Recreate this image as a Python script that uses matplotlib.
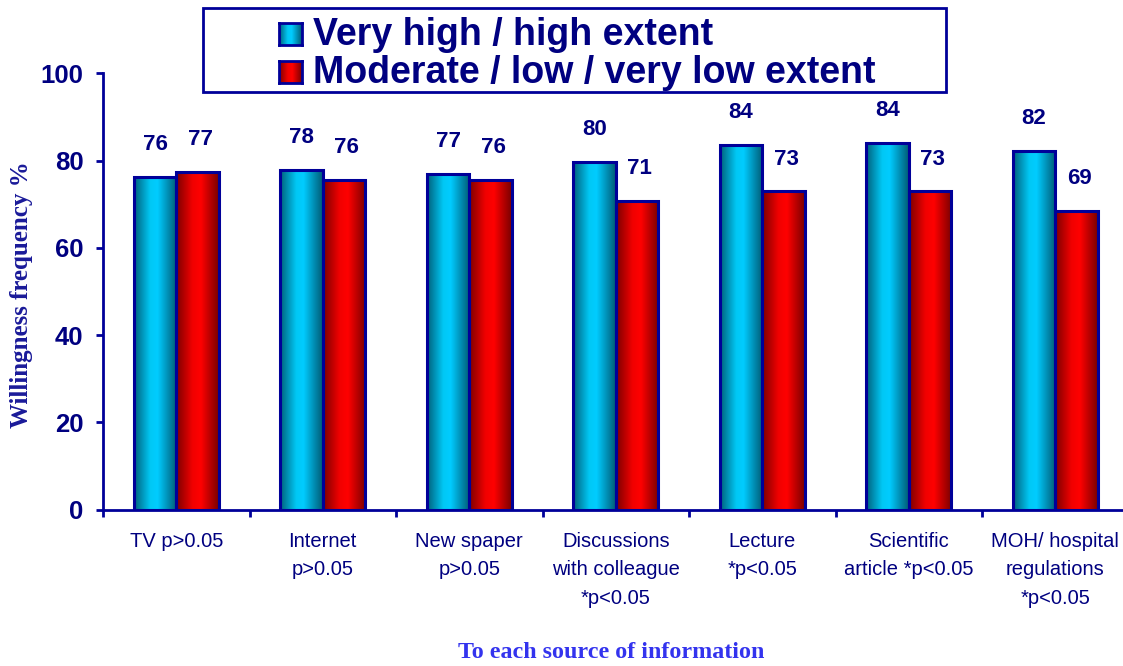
import numpy as np
import matplotlib
matplotlib.use("Agg")
import matplotlib.pyplot as plt
from matplotlib.colors import LinearSegmentedColormap
from matplotlib.patches import Rectangle

# data
categories = ["TV p>0.05", "Internet\np>0.05", "New spaper\np>0.05",
              "Discussions\nwith colleague\n*p<0.05", "Lecture\n*p<0.05",
              "Scientific\narticle *p<0.05", "MOH/ hospital\nregulations\n*p<0.05"]
high_vals = [76.3, 77.9, 77.0, 79.7, 83.6, 84.1, 82.2]
low_vals = [77.4, 75.6, 75.6, 70.8, 73.0, 73.0, 68.5]
high_labels = [76, 78, 77, 80, 84, 84, 82]
low_labels = [77, 76, 76, 71, 73, 73, 69]
series_names = ["Very high / high extent", "Moderate / low / very low extent"]

navy = "#000080"
edge = "#000099"

cyan_cmap = LinearSegmentedColormap.from_list(
    "cy", [(0, "#005f7a"), (0.38, "#00c8f5"), (0.55, "#00ccff"), (1, "#005a74")])
red_cmap = LinearSegmentedColormap.from_list(
    "rd", [(0, "#7a0000"), (0.38, "#f00000"), (0.58, "#ff0000"), (1, "#780000")])
grad = np.linspace(0, 1, 256).reshape(1, -1)

fig = plt.figure(figsize=(11.23, 6.66), dpi=100)
ax = fig.add_axes([103 / 1123, 1 - 509.5 / 666, 1025.5 / 1123, 436.2 / 666])

w = 0.29
x = np.arange(len(categories))


def gbar(xc, h, cmap):
    x0 = xc - w / 2
    ax.imshow(grad, cmap=cmap, extent=(x0, x0 + w, 0, h), aspect="auto",
              zorder=2, interpolation="bilinear")
    ax.add_patch(Rectangle((x0, 0), w, h, fill=False, edgecolor=edge,
                           lw=2.2, zorder=3))


for i in range(len(categories)):
    xh = i + 0.5 - w / 2
    xl = i + 0.5 + w / 2
    gbar(xh, high_vals[i], cyan_cmap)
    gbar(xl, low_vals[i], red_cmap)
    ax.annotate(str(high_labels[i]), (xh, high_vals[i]), xytext=(0, 23),
                textcoords="offset points", ha="center", va="center",
                fontsize=16, fontweight="bold", color=navy,
                family="Liberation Sans")
    ax.annotate(str(low_labels[i]), (xl, low_vals[i]), xytext=(2, 23),
                textcoords="offset points", ha="center", va="center",
                fontsize=16, fontweight="bold", color=navy,
                family="Liberation Sans")

ax.set_xlim(0, 7)
ax.set_ylim(0, 100)
ax.set_yticks([0, 20, 40, 60, 80, 100])
ax.set_xticks(np.arange(0, 8))
ax.set_xticklabels([])
ax.set_xticks(x + 0.5, minor=True)
ax.set_xticklabels(categories, minor=True, fontsize=14.5, color=navy,
                   family="Liberation Sans", linespacing=1.63)
ax.tick_params(axis="x", which="minor", length=0, pad=16)
ax.tick_params(axis="x", which="major", length=5, width=2, color=edge,
               direction="out")
ax.tick_params(axis="y", length=5, width=2, color=edge, direction="out",
               labelsize=18.5, labelcolor=navy, pad=9)
for lab in ax.get_yticklabels():
    lab.set_fontweight("bold")
    lab.set_family("Liberation Sans")
for s in ["top", "right"]:
    ax.spines[s].set_visible(False)
for s in ["left", "bottom"]:
    ax.spines[s].set_color(edge)
    ax.spines[s].set_linewidth(2)

fig.text(22 / 1123, 1 - 295 / 666, "Willingness frequency %", rotation=90,
         ha="center", va="center", fontsize=18, fontweight="bold",
         family="Liberation Serif", color="#1a1a99")
fig.text(611 / 1123, 1 - 652 / 666, "To each source of information",
         ha="center", va="center", fontsize=17.3, fontweight="bold",
         family="Liberation Serif", color="#3333ee")

# legend box drawn by hand
fig.patches.append(Rectangle((203 / 1123, 1 - 92 / 666), 743 / 1123, 84 / 666,
                             transform=fig.transFigure, facecolor="white",
                             edgecolor=edge, lw=2, zorder=0.5))
for k, (name, cmap) in enumerate(zip(series_names, [cyan_cmap, red_cmap])):
    top = 23 + k * 38
    sq = fig.add_axes([279 / 1123, 1 - (top + 22) / 666, 23 / 1123, 22 / 666])
    sq.set_zorder(3)
    sq.imshow(grad, cmap=cmap, aspect="auto", interpolation="bilinear")
    sq.set_xticks([])
    sq.set_yticks([])
    for s in sq.spines.values():
        s.set_color(edge)
        s.set_linewidth(2)
    fig.text(313 / 1123, 1 - (top + 12) / 666, name, ha="left", va="center",
             fontsize=27, fontweight="bold", family="Liberation Sans",
             color=navy, zorder=4)

fig.savefig("out.png", dpi=100)
